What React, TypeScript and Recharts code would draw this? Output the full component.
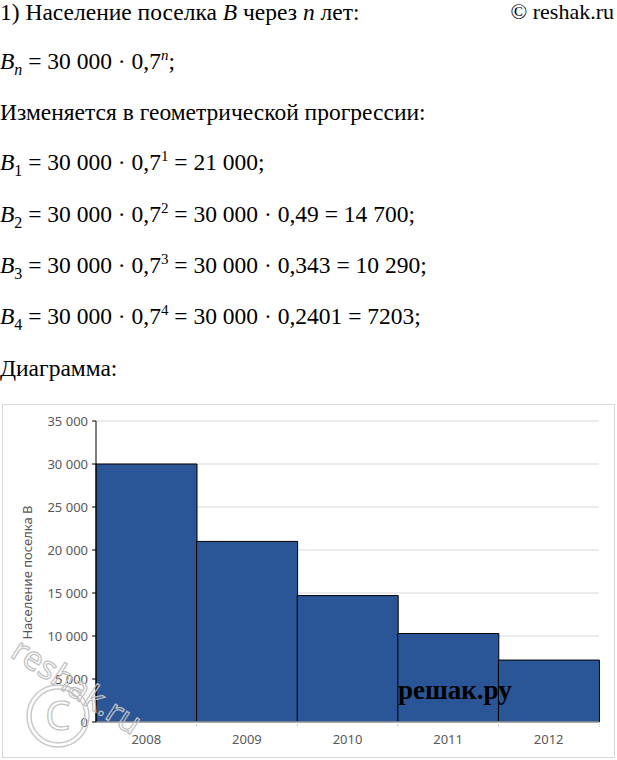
import { BarChart, Bar, XAxis, YAxis, CartesianGrid } from 'recharts';

const YEARS = ['2008', '2009', '2010', '2011', '2012'];
const POPULATION = [30000, 21000, 14700, 10290, 7203];
const Y_TICKS = [0, 5000, 10000, 15000, 20000, 25000, 30000, 35000];
const Y_LABEL = 'Население поселка В';

const data = YEARS.map((year, i) => ({ year, value: POPULATION[i] }));

const CHART_W = 611;
const CHART_H = 352;
const MARGIN = { top: 16, right: 15, bottom: 5, left: 23 };
const Y_AXIS_W = 70;
const BAND = (CHART_W - MARGIN.left - Y_AXIS_W - MARGIN.right) / YEARS.length;

const serif = '"Liberation Serif", serif';
const sans = '"Noto Sans", "Open Sans", sans-serif';

const fmt = (v: number) => String(v).replace(/\B(?=(\d{3})+(?!\d))/g, ' ');

function XTick(props: any) {
  const { x, y, payload } = props;
  return (
    <g>
      <line x1={x + BAND / 2} x2={x + BAND / 2} y1={y} y2={y + 5} stroke="#d9d9d9" />
      <text x={x} y={y + 13} dy="0.71em" textAnchor="middle" fill="#595959" fontSize={13} fontFamily={sans}>
        {payload.value}
      </text>
    </g>
  );
}

function Line({ top, children }: { top: number; children: any }) {
  return (
    <div style={{ position: 'absolute', left: 0, top, fontFamily: serif, fontSize: 23.5, lineHeight: '26px', whiteSpace: 'nowrap', color: '#000' }}>
      {children}
    </div>
  );
}

const B = ({ s }: { s: string }) => (
  <span>
    <i>B</i>
    <sub style={{ fontSize: 16, lineHeight: 0, fontStyle: s === 'n' ? 'italic' : 'normal' }}>{s}</sub>
  </span>
);
const P = ({ s }: { s: string }) => (
  <sup style={{ fontSize: 15, lineHeight: 0, fontStyle: s === 'n' ? 'italic' : 'normal' }}>{s}</sup>
);

export default function App() {
  return (
    <div style={{ position: 'absolute', left: 0, top: 0, width: 617, height: 760, background: '#fff', overflow: 'hidden' }}>
      <Line top={-1}>1) Население поселка <i>B</i> через <i>n</i> лет:</Line>
      <div style={{ position: 'absolute', right: 3, top: -1, fontFamily: serif, fontSize: 22, lineHeight: '26px' }}>© reshak.ru</div>
      <Line top={48}>
        <B s="n" /> = 30 000 · 0,7<P s="n" />;
      </Line>
      <Line top={99}>Изменяется в геометрической прогрессии:</Line>
      <Line top={149}>
        <B s="1" /> = 30 000 · 0,7<P s="1" /> = 21 000;
      </Line>
      <Line top={201}>
        <B s="2" /> = 30 000 · 0,7<P s="2" /> = 30 000 · 0,49 = 14 700;
      </Line>
      <Line top={252}>
        <B s="3" /> = 30 000 · 0,7<P s="3" /> = 30 000 · 0,343 = 10 290;
      </Line>
      <Line top={303}>
        <B s="4" /> = 30 000 · 0,7<P s="4" /> = 30 000 · 0,2401 = 7203;
      </Line>
      <Line top={355}>Диаграмма:</Line>

      <div style={{ position: 'absolute', left: 2, top: 404, width: CHART_W, height: CHART_H, border: '1px solid #d9d9d9' }}>
        <BarChart width={CHART_W} height={CHART_H} data={data} margin={MARGIN} barCategoryGap={0}>
          <CartesianGrid vertical={false} stroke="#d9d9d9" />
          <XAxis
            dataKey="year"
            height={30}
            axisLine={{ stroke: '#d9d9d9' }}
            tickLine={false}
            tickSize={0}
            tickMargin={0}
            tick={<XTick />}
          />
          <YAxis
            width={Y_AXIS_W}
            domain={[0, 35000]}
            ticks={Y_TICKS}
            tickFormatter={fmt}
            axisLine={{ stroke: '#000' }}
            tickLine={{ stroke: '#000' }}
            tickSize={4}
            tickMargin={4}
            tick={{ fill: '#595959', fontSize: 13, fontFamily: sans }}
            label={{
              content: ({ viewBox }: any) => (
                <text
                  x={viewBox.x + 1}
                  y={viewBox.y + viewBox.height / 2 + 1}
                  transform={`rotate(-90 ${viewBox.x + 1} ${viewBox.y + viewBox.height / 2 + 1})`}
                  textAnchor="middle"
                  dominantBaseline="central"
                  fill="#595959"
                  fontSize={13}
                  fontFamily={sans}
                >
                  {Y_LABEL}
                </text>
              ),
            }}
          />
          <Bar dataKey="value" fill="#2a5697" stroke="#000" strokeWidth={1} isAnimationActive={false} />
        </BarChart>
      </div>

      <div style={{ position: 'absolute', left: 398, top: 674, fontFamily: serif, fontWeight: 'bold', fontSize: 27, lineHeight: '32px' }}>
        решак.ру
      </div>
      <svg width={240} height={150} style={{ position: 'absolute', left: 0, top: 610, overflow: 'visible', pointerEvents: 'none' }}>
        <circle cx={58} cy={106} r={31} fill="none" stroke="#c8c8c8" strokeWidth={1.5} />
        <circle cx={58} cy={106} r={27} fill="none" stroke="#c8c8c8" strokeWidth={1.5} />
        <text x={58} y={120} textAnchor="middle" fontSize={40} fontFamily={sans} fill="none" stroke="#c0c0c0" strokeWidth={1.2}>
          C
        </text>
        <text x={9} y={46} transform="rotate(33 9 46)" fontSize={33} fontFamily={sans} fill="none" stroke="#c0c0c0" strokeWidth={1.2}>
          reshak.ru
        </text>
      </svg>
    </div>
  );
}
